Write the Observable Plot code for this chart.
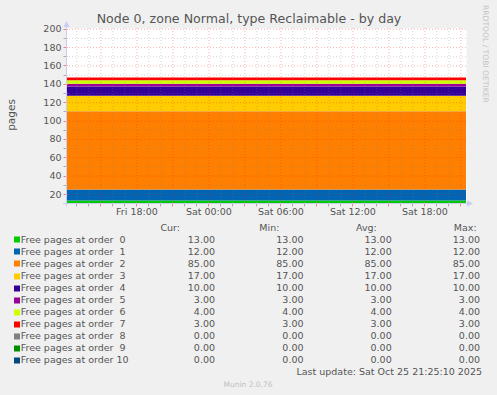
<!DOCTYPE html>
<html><head><meta charset="utf-8">
<script src="https://cdn.jsdelivr.net/npm/d3@7"></script>
<script src="https://cdn.jsdelivr.net/npm/@observablehq/plot@0.6"></script>
<style>
html,body{margin:0;padding:0;background:#f0f0f0;}
#chart{width:497px;height:395px;overflow:hidden;}
#chart text{white-space:pre;}
</style></head><body><div id="chart"></div>
<script>
// ---- data ----
const title = "Node 0, zone Normal, type Reclaimable - by day";
const yLabel = "pages";
const seriesLabels = [
  "Free pages at order  0","Free pages at order  1","Free pages at order  2",
  "Free pages at order  3","Free pages at order  4","Free pages at order  5",
  "Free pages at order  6","Free pages at order  7","Free pages at order  8",
  "Free pages at order  9","Free pages at order 10"];
const seriesColors = ["#00CC00","#0066B3","#FF8000","#FFCC00","#330099","#990099",
  "#CCFF00","#FF0000","#808080","#008F00","#00487D"];
const curValues = [13,12,85,17,10,3,4,3,0,0,0];
const minValues = [13,12,85,17,10,3,4,3,0,0,0];
const avgValues = [13,12,85,17,10,3,4,3,0,0,0];
const maxValues = [13,12,85,17,10,3,4,3,0,0,0];
const timeStart = new Date(Date.UTC(2025, 9, 24, 12, 8));
const timeEnd = new Date(Date.UTC(2025, 9, 25, 21, 28));
const sampleTimes = [timeStart, timeEnd];
const yTickValues = [20,40,60,80,100,120,140,160,180,200];
const yMinorValues = [30,50,70,90,110,130,150,170,190];
const xLabelTimes = [
  new Date(Date.UTC(2025, 9, 24, 18)), new Date(Date.UTC(2025, 9, 25, 0)),
  new Date(Date.UTC(2025, 9, 25, 6)), new Date(Date.UTC(2025, 9, 25, 12)),
  new Date(Date.UTC(2025, 9, 25, 18))];
const legendHeaders = ["Cur:","Min:","Avg:","Max:"];
const lastUpdate = "Last update: Sat Oct 25 21:25:10 2025";
const footer = "Munin 2.0.76";
const watermark = "RRDTOOL / TOBI OETIKER";

// ---- layout ----
const W = 497, H = 395, mL = 66, mR = 31, mT = 28, mB = 192;
const yDomain = [10.2, 200.8];
const textColor = "#555";
const axisColor = "#c9cdf2";

const rows = sampleTimes.flatMap(t => seriesLabels.map((s, i) => ({t, series: s, value: avgValues[i]})));
const hours = d3.utcHour.range(d3.utcHour.ceil(timeStart), timeEnd);
const minorHours = hours.filter(d => d.getUTCHours() % 3 !== 0);
const majorHours = hours.filter(d => d.getUTCHours() % 3 === 0);
const fmtTime = d3.utcFormat("%a %H:%M");

const plot = Plot.plot({
  width: W, height: H,
  marginLeft: mL, marginRight: mR, marginTop: mT, marginBottom: mB,
  style: {background: "#f0f0f0", fontFamily: "DejaVu Sans", fontSize: "9.5px", color: textColor},
  x: {type: "utc", domain: [timeStart, timeEnd], axis: null},
  y: {domain: yDomain, clamp: true, axis: null},
  color: {domain: seriesLabels, range: seriesColors},
  marks: [
    Plot.frame({fill: "white", stroke: "none"}),
    Plot.areaY(rows, Plot.stackY({x: "t", y: "value", z: "series", fill: "series"})),
    Plot.ruleY(yMinorValues, {y: d => d, stroke: "#808080", strokeOpacity: 0.32, strokeDasharray: "1,2"}),
    Plot.ruleY(yTickValues, {y: d => d, stroke: "#ff0000", strokeOpacity: 0.3, strokeDasharray: "1,2"}),
    Plot.ruleX(minorHours, {x: d => d, stroke: "#808080", strokeOpacity: 0.32, strokeDasharray: "1,2"}),
    Plot.ruleX(majorHours, {x: d => d, stroke: "#ff0000", strokeOpacity: 0.3, strokeDasharray: "1,2"}),
    Plot.text(yTickValues, {x: () => timeStart, y: d => d, text: d => String(d), textAnchor: "end", dx: -5, fill: textColor}),
    Plot.text(xLabelTimes, {x: d => d, y: () => yDomain[0], dy: 8, text: d => fmtTime(d), fill: textColor})
  ]
});
document.getElementById("chart").appendChild(plot);

// ---- decorations (axes, title, legend) ----
const svg = d3.select(plot);
const xs = d3.scaleUtc().domain([timeStart, timeEnd]).range([mL, W - mR]);
const ys = d3.scaleLinear().domain(yDomain).range([H - mB, mT]);
const by = H - mB + 0.5, lx = mL + 0.5;

const g = svg.append("g");
g.selectAll(".ty").data(yMinorValues.concat(yTickValues)).join("line")
  .attr("x1", lx - 3).attr("x2", lx + 1).attr("y1", d => Math.round(ys(d)) + 0.5).attr("y2", d => Math.round(ys(d)) + 0.5)
  .attr("stroke", d => yTickValues.includes(d) ? "#f08080" : "#aaa").attr("stroke-width", 1);
g.selectAll(".tx").data(hours).join("line")
  .attr("x1", d => Math.round(xs(d)) + 0.5).attr("x2", d => Math.round(xs(d)) + 0.5)
  .attr("y1", by - 1).attr("y2", by + 3)
  .attr("stroke", d => d.getUTCHours() % 3 === 0 ? "#f08080" : "#aaa");
g.append("line").attr("x1", lx).attr("x2", lx).attr("y1", by + 3).attr("y2", mT - 5).attr("stroke", axisColor);
g.append("line").attr("x1", mL - 3).attr("x2", W - mR + 4).attr("y1", by).attr("y2", by).attr("stroke", axisColor);
g.append("path").attr("d", `M${lx - 3},${mT - 1}L${lx + 3},${mT - 1}L${lx},${mT - 7}Z`).attr("fill", axisColor);
g.append("path").attr("d", `M${W - mR + 1},${by - 3}L${W - mR + 1},${by + 3}L${W - mR + 7},${by}Z`).attr("fill", axisColor);

svg.append("text").attr("x", 249).attr("y", 19).attr("dy", "0.35em").attr("text-anchor", "middle")
  .attr("font-size", "12.6px").attr("fill", textColor).text(title);
svg.append("text").attr("transform", "translate(11,115) rotate(-90)").attr("dy", "0.35em").attr("text-anchor", "middle")
  .attr("font-size", "10.5px").attr("fill", textColor).text(yLabel);
svg.append("text").attr("transform", "translate(486,5) rotate(90)").attr("dy", "0.35em").attr("text-anchor", "start")
  .attr("font-size", "7.6px").attr("fill", "#c4c4c4").text(watermark);

const colRight = [215, 303.5, 391.7, 480];
const headerX = [{x: 180, a: "end"}, {x: 259.3, a: "start"}, {x: 356, a: "start"}, {x: 476.7, a: "end"}];
legendHeaders.forEach((h, j) => {
  svg.append("text").attr("x", headerX[j].x).attr("y", 227.7).attr("dy", "0.35em")
    .attr("text-anchor", headerX[j].a).attr("fill", textColor).text(h);
});
const fmt = d3.format(".2f");
const cols = [curValues, minValues, avgValues, maxValues];
seriesLabels.forEach((s, i) => {
  const y = 239.4 + i * 12.04;
  svg.append("rect").attr("x", 14).attr("y", Math.round(y) - 2.5).attr("width", 6).attr("height", 6).attr("fill", seriesColors[i]);
  svg.append("text").attr("x", 20.7).attr("y", y).attr("dy", "0.35em").attr("text-anchor", "start").attr("fill", textColor)
    .attr("xml:space", "preserve").style("white-space", "pre").text(s);
  cols.forEach((c, j) => {
    svg.append("text").attr("x", colRight[j]).attr("y", y).attr("dy", "0.35em").attr("text-anchor", "end")
      .attr("fill", textColor).text(fmt(c[i]));
  });
});
svg.append("text").attr("x", 482).attr("y", 371.7).attr("dy", "0.35em").attr("text-anchor", "end")
  .attr("fill", textColor).text(lastUpdate);
svg.append("text").attr("x", 248).attr("y", 384.3).attr("dy", "0.35em").attr("text-anchor", "middle")
  .attr("font-size", "7.5px").attr("fill", "#c0c0c0").text(footer);
</script></body></html>
